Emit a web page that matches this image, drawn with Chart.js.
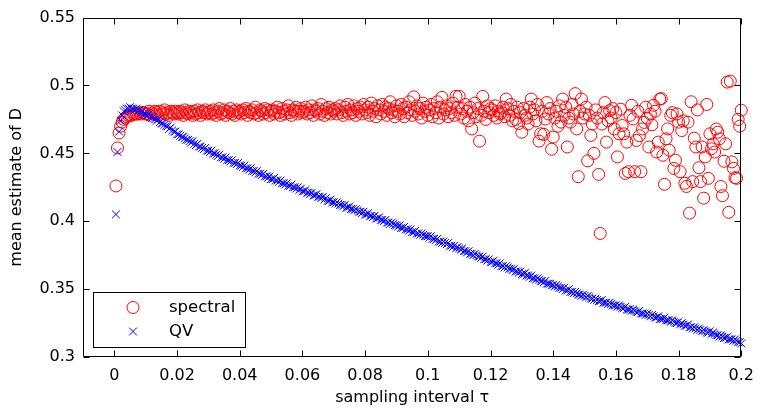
<!DOCTYPE html>
<html><head><meta charset="utf-8">
<script src="https://cdn.jsdelivr.net/npm/chart.js@4/dist/chart.umd.min.js"></script>
<style>html,body{margin:0;padding:0;background:#fff;}#wrap{width:763px;height:410px;}</style>
</head><body><div id="wrap"><canvas id="c" width="763" height="410"></canvas></div>
<script>
// sampling grid
const tauStart = 0.0005;
const tauStep = 0.0005;

// spectral estimates (400 values, tau = 0.0005 ... 0.2)
const spectral = [
0.426,0.454,0.465,0.470,0.473,0.475,0.476,0.477,0.478,0.478,0.478,0.479,0.479,0.479,0.479,0.480,0.479,0.480,0.480,0.479,
0.479,0.481,0.478,0.480,0.479,0.481,0.480,0.478,0.481,0.479,0.480,0.482,0.479,0.480,0.478,0.481,0.480,0.479,0.481,0.480,
0.479,0.481,0.480,0.478,0.482,0.480,0.479,0.481,0.480,0.478,0.481,0.479,0.482,0.480,0.478,0.481,0.480,0.482,0.479,0.480,
0.481,0.479,0.482,0.480,0.478,0.481,0.483,0.479,0.480,0.482,0.478,0.481,0.480,0.483,0.479,0.481,0.478,0.482,0.480,0.481,
0.479,0.482,0.480,0.483,0.478,0.481,0.480,0.482,0.479,0.484,0.480,0.478,0.482,0.481,0.479,0.483,0.480,0.482,0.478,0.481,
0.482,0.479,0.481,0.484,0.480,0.478,0.483,0.481,0.479,0.482,0.485,0.480,0.478,0.482,0.481,0.484,0.479,0.481,0.483,0.480,
0.481,0.484,0.479,0.482,0.480,0.485,0.478,0.482,0.481,0.483,0.479,0.486,0.481,0.478,0.483,0.480,0.484,0.479,0.482,0.481,
0.483,0.479,0.482,0.485,0.480,0.478,0.484,0.481,0.486,0.479,0.482,0.480,0.485,0.478,0.483,0.481,0.484,0.479,0.486,0.482,
0.480,0.484,0.478,0.487,0.481,0.483,0.477,0.485,0.482,0.479,0.486,0.481,0.484,0.478,0.483,0.488,0.480,0.482,0.477,0.485,
0.481,0.479,0.486,0.483,0.477,0.484,0.480,0.488,0.482,0.478,0.4916,0.481,0.485,0.479,0.483,0.476,0.487,0.481,0.484,0.478,
0.482,0.486,0.477,0.483,0.480,0.488,0.476,0.484,0.4912,0.479,0.482,0.485,0.477,0.483,0.480,0.487,0.478,0.492,0.484,0.492,
0.479,0.483,0.476,0.486,0.481,0.474,0.484,0.468,0.480,0.487,0.477,0.483,0.459,0.478,0.492,0.481,0.475,0.485,0.480,0.483,
0.482,0.478,0.485,0.476,0.481,0.479,0.480,0.484,0.477,0.490,0.483,0.478,0.486,0.474,0.481,0.475,0.484,0.472,0.480,0.4656,
0.483,0.478,0.476,0.4716,0.484,0.490,0.479,0.482,0.474,0.486,0.459,0.4644,0.481,0.464,0.4753,0.4874,0.479,0.483,0.453,0.462,
0.476,0.481,0.470,0.485,0.473,0.490,0.478,0.484,0.4547,0.476,0.473,0.486,0.479,0.494,0.468,0.4328,0.481,0.490,0.476,0.479,
0.484,0.4445,0.478,0.4632,0.4716,0.450,0.482,0.476,0.4345,0.391,0.4716,0.480,0.4874,0.4583,0.474,0.4814,0.476,0.483,0.468,0.480,
0.4474,0.4644,0.4825,0.4705,0.4644,0.4352,0.4583,0.4365,0.478,0.4854,0.4753,0.4365,0.4595,0.481,0.463,0.4365,0.468,0.4728,0.484,0.476,
0.4547,0.479,0.471,0.4854,0.481,0.451,0.4583,0.490,0.4903,0.4486,0.4272,0.4607,0.468,0.4523,0.478,0.480,0.4389,0.445,0.479,0.473,
0.4365,0.4668,0.474,0.428,0.4256,0.473,0.406,0.488,0.4292,0.4612,0.4547,0.482,0.4394,0.4292,0.4547,0.417,0.4474,0.486,0.4316,0.4644,
0.4534,0.457,0.451,0.468,0.4656,0.4607,0.4256,0.4188,0.4442,0.457,0.5025,0.4066,0.5032,0.4437,0.4389,0.4321,0.4316,0.475,0.470,0.4818
];

// QV estimates (400 values, same grid)
const qv = [
0.405,0.451,0.466,0.474,0.478,0.481,0.482,0.483,0.483,0.484,0.483,0.483,0.482,0.483,0.481,0.482,0.480,0.481,0.479,0.479,
0.478,0.479,0.477,0.476,0.477,0.475,0.474,0.475,0.473,0.472,0.472,0.471,0.470,0.470,0.468,0.469,0.467,0.466,0.466,0.464,
0.464,0.463,0.462,0.462,0.461,0.460,0.460,0.459,0.458,0.459,0.457,0.456,0.457,0.455,0.455,0.454,0.453,0.454,0.452,0.452,
0.451,0.452,0.450,0.450,0.449,0.448,0.449,0.447,0.447,0.446,0.447,0.445,0.445,0.444,0.445,0.443,0.443,0.442,0.443,0.441,
0.441,0.440,0.441,0.439,0.439,0.438,0.439,0.437,0.437,0.436,0.437,0.435,0.435,0.434,0.435,0.433,0.433,0.432,0.433,0.431,
0.431,0.432,0.430,0.430,0.429,0.430,0.428,0.428,0.427,0.428,0.426,0.426,0.427,0.425,0.425,0.424,0.425,0.423,0.424,0.422,
0.422,0.423,0.421,0.421,0.420,0.421,0.419,0.419,0.420,0.418,0.418,0.417,0.418,0.416,0.417,0.415,0.415,0.416,0.414,0.414,
0.413,0.414,0.413,0.412,0.412,0.411,0.412,0.410,0.410,0.411,0.409,0.409,0.408,0.409,0.408,0.407,0.407,0.406,0.407,0.405,
0.405,0.406,0.404,0.404,0.403,0.404,0.402,0.402,0.403,0.401,0.401,0.400,0.401,0.399,0.399,0.398,0.399,0.398,0.397,0.397,
0.396,0.397,0.395,0.395,0.396,0.394,0.394,0.393,0.394,0.392,0.392,0.393,0.391,0.391,0.390,0.391,0.390,0.389,0.389,0.389,
0.388,0.389,0.387,0.387,0.386,0.387,0.385,0.385,0.384,0.385,0.384,0.383,0.384,0.382,0.382,0.381,0.382,0.380,0.381,0.380,
0.379,0.380,0.378,0.378,0.377,0.378,0.376,0.376,0.375,0.376,0.375,0.374,0.374,0.373,0.374,0.372,0.372,0.371,0.372,0.370,
0.370,0.371,0.369,0.369,0.368,0.369,0.367,0.367,0.366,0.367,0.366,0.365,0.365,0.364,0.365,0.363,0.363,0.362,0.363,0.361,
0.361,0.362,0.360,0.360,0.359,0.360,0.358,0.358,0.357,0.358,0.357,0.356,0.356,0.355,0.356,0.354,0.354,0.354,0.353,0.353,
0.352,0.353,0.352,0.351,0.351,0.350,0.351,0.349,0.349,0.350,0.348,0.348,0.347,0.348,0.347,0.346,0.346,0.345,0.346,0.345,
0.344,0.345,0.344,0.343,0.343,0.342,0.343,0.342,0.341,0.341,0.342,0.340,0.340,0.340,0.339,0.340,0.339,0.338,0.338,0.338,
0.337,0.338,0.337,0.336,0.336,0.337,0.335,0.335,0.335,0.334,0.335,0.334,0.333,0.333,0.334,0.332,0.332,0.332,0.331,0.332,
0.331,0.330,0.331,0.330,0.329,0.329,0.330,0.328,0.328,0.328,0.329,0.327,0.327,0.327,0.326,0.327,0.326,0.325,0.325,0.326,
0.324,0.325,0.324,0.323,0.323,0.324,0.322,0.322,0.321,0.322,0.321,0.320,0.321,0.320,0.319,0.320,0.319,0.318,0.318,0.319,
0.317,0.318,0.317,0.316,0.316,0.315,0.316,0.315,0.314,0.314,0.315,0.313,0.313,0.313,0.312,0.313,0.312,0.311,0.311,0.310
];

const xTicks = [0,0.02,0.04,0.06,0.08,0.1,0.12,0.14,0.16,0.18,0.2];
const xTickLabels = ['0','0.02','0.04','0.06','0.08','0.1','0.12','0.14','0.16','0.18','0.2'];
const yTicks = [0.3,0.35,0.4,0.45,0.5,0.55];
const yTickLabels = ['0.3','0.35','0.4','0.45','0.5','0.55'];
const seriesNames = ['spectral','QV'];

const tau = spectral.map((_, i) => +(tauStart + i * tauStep).toFixed(4));
const FONT = 'DejaVu Sans';

const framePlugin = {
  id: 'frame',
  afterDatasetsDraw(chart) {
    const {ctx, chartArea: a, scales: {x, y}} = chart;
    ctx.save();
    ctx.strokeStyle = '#000';
    ctx.lineWidth = 1;
    const L = Math.round(a.left) + 0.5, R = Math.round(a.right) - 0.5;
    const T = Math.round(a.top) + 0.5, B = Math.round(a.bottom) - 0.5;
    ctx.beginPath();
    ctx.rect(L, T, R - L, B - T);
    const tl = 6;
    xTicks.forEach(v => {
      const px = Math.round(x.getPixelForValue(v)) + 0.5;
      ctx.moveTo(px, B); ctx.lineTo(px, B - tl);
      ctx.moveTo(px, T); ctx.lineTo(px, T + tl);
    });
    yTicks.forEach(v => {
      const py = Math.round(y.getPixelForValue(v)) + 0.5;
      ctx.moveTo(L, py); ctx.lineTo(L + tl, py);
      ctx.moveTo(R, py); ctx.lineTo(R - tl, py);
    });
    ctx.stroke();

    // legend box
    const bx = 93.5, by = 292.5, bw = 152, bh = 55;
    ctx.fillStyle = '#fff';
    ctx.fillRect(bx, by, bw, bh);
    ctx.strokeRect(bx, by, bw, bh);
    const rows = [307.5, 331.5];
    chart.data.datasets.forEach((ds, i) => {
      const my = rows[i];
      ctx.save();
      ctx.strokeStyle = ds.borderColor;
      ctx.lineWidth = ds.borderWidth;
      ctx.beginPath();
      if (ds.pointStyle === 'circle') {
        ctx.arc(133, my, ds.pointRadius, 0, Math.PI * 2);
      } else {
        const r = ds.pointRadius * Math.SQRT1_2;
        ctx.moveTo(133 - r, my - r); ctx.lineTo(133 + r, my + r);
        ctx.moveTo(133 - r, my + r); ctx.lineTo(133 + r, my - r);
      }
      ctx.stroke();
      ctx.restore();
      ctx.fillStyle = '#000';
      ctx.font = '16.5px "' + FONT + '"';
      ctx.textBaseline = 'middle';
      ctx.textAlign = 'left';
      ctx.fillText(ds.label, 169, my);
    });
    ctx.restore();
  }
};

new Chart(document.getElementById('c'), {
  type: 'scatter',
  data: {
    datasets: [
      {
        label: seriesNames[0],
        data: tau.map((t, i) => ({x: t, y: spectral[i]})),
        pointStyle: 'circle',
        pointRadius: 6,
        borderWidth: 1,
        borderColor: '#ff0000',
        backgroundColor: 'rgba(0,0,0,0)',
        order: 2,
        clip: false
      },
      {
        label: seriesNames[1],
        data: tau.map((t, i) => ({x: t, y: qv[i]})),
        pointStyle: 'crossRot',
        pointRadius: 5.5,
        borderWidth: 1,
        borderColor: '#0000ff',
        backgroundColor: '#0000ff',
        order: 1,
        clip: false
      }
    ]
  },
  options: {
    responsive: false,
    animation: false,
    events: [],
    layout: {padding: {top: 14, right: 16, left: 0, bottom: 0}},
    plugins: {legend: {display: false}, tooltip: {enabled: false}},
    scales: {
      x: {
        type: 'linear', min: -0.01, max: 0.2,
        grid: {display: false, drawTicks: false},
        border: {display: false},
        afterBuildTicks: s => { s.ticks = xTicks.map(v => ({value: v})); },
        afterFit: s => { s.height = 53; },
        ticks: {
          autoSkip: false, maxRotation: 0, padding: 9, color: '#000',
          font: {family: FONT, size: 16},
          callback: (v, i) => xTickLabels[i]
        },
        title: {display: true, text: 'sampling interval τ', color: '#000',
          font: {family: FONT, size: 16}, padding: {top: 0, bottom: 3}}
      },
      y: {
        type: 'linear', min: 0.3, max: 0.55,
        grid: {display: false, drawTicks: false},
        border: {display: false},
        afterBuildTicks: s => { s.ticks = yTicks.map(v => ({value: v})); },
        afterFit: s => { s.width = 83; },
        ticks: {
          autoSkip: false, padding: 8, color: '#000',
          font: {family: FONT, size: 16},
          callback: (v, i) => yTickLabels[i]
        },
        title: {display: true, text: 'mean estimate of D', color: '#000',
          font: {family: FONT, size: 16}, padding: {top: 7, bottom: 0}}
      }
    }
  },
  plugins: [framePlugin]
});
</script>
</body></html>
